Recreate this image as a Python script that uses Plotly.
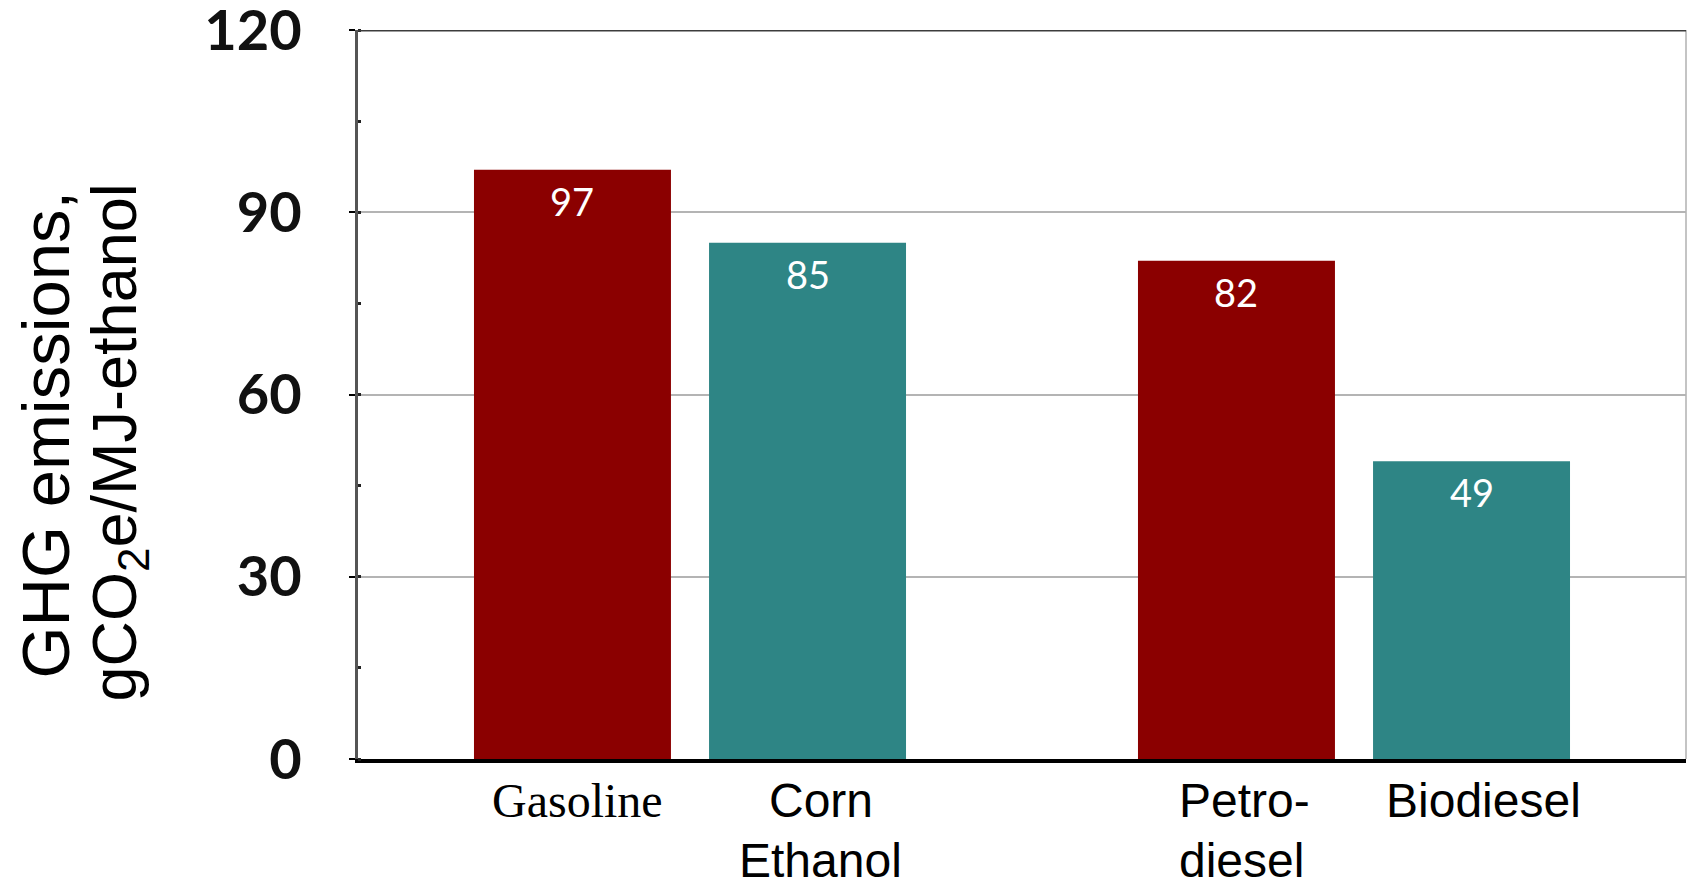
import plotly.graph_objects as go

# Fuel pairs: fossil reference vs. biofuel
groups = ["Ethanol pair", "Diesel pair"]
fossil_labels = ["Gasoline", "Petro-<br>diesel"]
bio_labels = ["Corn<br>Ethanol", "Biodiesel"]
fossil_values = [97, 82]
bio_values = [85, 49]
y_ticks = [0, 30, 60, 90, 120]

RED = "#8B0000"
TEAL = "#2E8585"
BARGAP = 0.292
GROUPGAP = 0.162

W, H = 1687, 882
M_L, M_R, M_T, M_B = 358, 1, 30, 123

fig = go.Figure()
fig.add_trace(go.Bar(x=groups, y=fossil_values, marker=dict(color=RED, line=dict(width=0)),
                     hoverinfo="skip", showlegend=False))
fig.add_trace(go.Bar(x=groups, y=bio_values, marker=dict(color=TEAL, line=dict(width=0)),
                     hoverinfo="skip", showlegend=False))

# offset of each bar centre from its group centre, in category units
half = (1 - BARGAP) / 4
num_font = dict(family="Lato, Roboto", size=38, color="white")
sans = "Liberation Sans, Arial"
serif = "Liberation Serif, Times New Roman"

ann = []
for i in range(len(groups)):
    for off, val in [(-half, fossil_values[i]), (half, bio_values[i])]:
        ann.append(dict(x=i + off, y=val, xref="x", yref="y", text=str(val), showarrow=False,
                        yanchor="top", yshift=-6, font=num_font))


def cat_label(xpos, lines, family, size, anchor="center", shift=0):
    for k, line in enumerate(lines):
        ann.append(dict(x=xpos, y=0, xref="x", yref="paper", text=line, showarrow=False,
                        xanchor=anchor, xshift=shift, yanchor="middle", yshift=-41 - 60 * k,
                        font=dict(family=family, size=size, color="black")))


cat_label(0 - half, fossil_labels[0].split("<br>"), serif, 48, shift=5)
cat_label(0 + half, bio_labels[0].split("<br>"), sans, 48, shift=13)
cat_label(1 - half, fossil_labels[1].split("<br>"), sans, 48, anchor="left", shift=-59)
cat_label(1 + half, bio_labels[1].split("<br>"), sans, 48, shift=12)

# two-line y title
ann.append(dict(x=0, y=0.5, xref="paper", yref="paper", text="GHG emissions,", textangle=-90,
                showarrow=False, font=dict(family=sans, size=67, color="black"),
                xanchor="center", yanchor="middle", xshift=45 - M_L, yshift=-40))
ann.append(dict(x=0, y=0.5, xref="paper", yref="paper", text="gCO<sub>2</sub>e/MJ-ethanol",
                textangle=-90, showarrow=False, font=dict(family=sans, size=63, color="black"),
                xanchor="center", yanchor="middle", xshift=118 - M_L, yshift=-48))

fig.update_layout(
    width=W, height=H,
    margin=dict(l=M_L, r=M_R, t=M_T, b=M_B, autoexpand=False),
    paper_bgcolor="white", plot_bgcolor="white",
    barmode="group", bargap=BARGAP, bargroupgap=GROUPGAP,
    annotations=ann,
    shapes=[
        dict(type="line", xref="paper", yref="y", x0=0, x1=1, y0=120, y1=120,
             line=dict(color="#3c3c3c", width=3), layer="above"),
        dict(type="line", xref="paper", yref="paper", x0=1, x1=1, y0=0, y1=1,
             line=dict(color="#c4c4c4", width=2), layer="below"),
    ],
)
fig.update_xaxes(showticklabels=False, ticks="", showgrid=False, showline=True,
                 linecolor="black", linewidth=4, zeroline=False, automargin=False)
fig.update_yaxes(range=[0, 120], tickvals=y_ticks, ticktext=[str(v) for v in y_ticks],
                 showgrid=True, gridcolor="#b4b4b4", gridwidth=2, zeroline=False,
                 showline=True, linecolor="#555555", linewidth=3, automargin=False,
                 ticks="outside", ticklen=6, tickwidth=2, tickcolor="black",
                 ticklabelstandoff=36, ticklabeloverflow="allow",
                 minor=dict(dtick=15, tick0=0, ticks="inside", ticklen=3, tickwidth=3,
                            tickcolor="#222222", showgrid=False),
                 tickfont=dict(family="Lato, Roboto", size=56, color="#111111", weight="bold"))

fig.write_html("out.html")
